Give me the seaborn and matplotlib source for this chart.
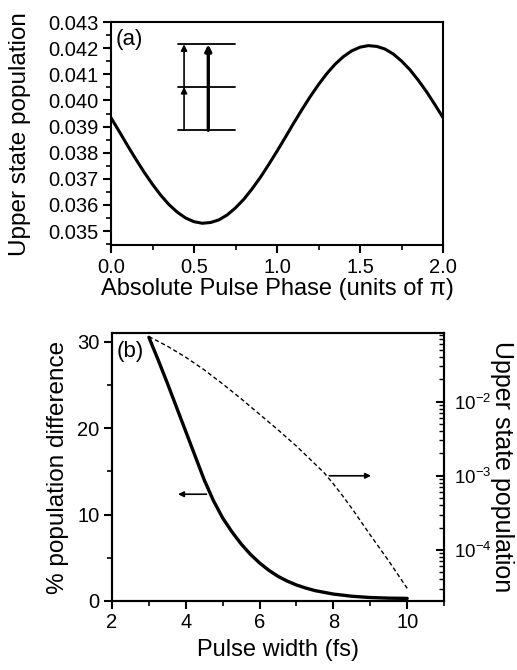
import matplotlib
matplotlib.use("Agg")
import numpy as np
import pandas as pd
import seaborn as sns
import matplotlib.pyplot as plt
from matplotlib.ticker import MultipleLocator, LogLocator, NullFormatter, FormatStrFormatter

# panel (a): upper state population vs absolute pulse phase
phase = [0.00, 0.05, 0.10, 0.15, 0.20, 0.25, 0.30, 0.35, 0.40, 0.45,
         0.50, 0.55, 0.60, 0.65, 0.70, 0.75, 0.80, 0.85, 0.90, 0.95,
         1.00, 1.05, 1.10, 1.15, 1.20, 1.25, 1.30, 1.35, 1.40, 1.45,
         1.50, 1.55, 1.60, 1.65, 1.70, 1.75, 1.80, 1.85, 1.90, 1.95, 2.00]
upper_pop = [0.03934, 0.03881, 0.03827, 0.03775, 0.03725, 0.03679, 0.03637,
             0.03601, 0.03572, 0.03550, 0.03536, 0.03530, 0.03533, 0.03543,
             0.03562, 0.03589, 0.03622, 0.03662, 0.03706, 0.03755, 0.03806,
             0.03859, 0.03913, 0.03965, 0.04015, 0.04061, 0.04103, 0.04139,
             0.04168, 0.04190, 0.04204, 0.04210, 0.04207, 0.04197, 0.04178,
             0.04151, 0.04118, 0.04078, 0.04034, 0.03985, 0.03934]

# panel (b): % population difference (left axis)
width_fs = [3.0, 3.25, 3.5, 3.75, 4.0, 4.25, 4.5, 4.75, 5.0, 5.25, 5.5, 5.75,
            6.0, 6.25, 6.5, 6.75, 7.0, 7.25, 7.5, 8.0, 8.5, 9.0, 9.5, 10.0]
pop_diff = [30.5, 27.9, 25.2, 22.4, 19.6, 16.8, 14.0, 11.6, 9.6, 8.0, 6.6, 5.4,
            4.4, 3.55, 2.85, 2.3, 1.85, 1.5, 1.2, 0.8, 0.55, 0.4, 0.33, 0.3]

# panel (b): upper state population (right axis, log10 values)
width_log = [3.0, 3.5, 4.0, 4.5, 5.0, 5.5, 6.0, 6.5, 7.0, 7.5, 7.75, 8.0, 8.25,
             8.5, 9.0, 9.5, 10.0]
log_upper = [-1.12, -1.25, -1.40, -1.57, -1.76, -1.96, -2.17, -2.38, -2.60,
             -2.84, -2.96, -3.11, -3.27, -3.44, -3.80, -4.15, -4.52]

sns.set_style("ticks")
plt.rcParams['font.family'] = ['Liberation Sans', 'DejaVu Sans']
plt.rcParams['mathtext.fontset'] = 'custom'
plt.rcParams['mathtext.rm'] = 'Liberation Sans'
plt.rcParams['mathtext.it'] = 'Liberation Sans'
plt.rcParams['axes.linewidth'] = 1.5
for key in ('text.color', 'axes.labelcolor', 'xtick.color', 'ytick.color', 'axes.edgecolor'):
    plt.rcParams[key] = 'black'

df_a = pd.DataFrame({'phase': phase, 'pop': upper_pop})
df_b = pd.DataFrame({'w': width_fs, 'diff': pop_diff})
df_c = pd.DataFrame({'w': width_log, 'pop': [10 ** v for v in log_upper]})

fig = plt.figure(figsize=(5.17, 6.70), dpi=100)
tick_fs = 14.5
label_fs = 17

# ---- (a) ----
ax = fig.add_axes([0.2147, 0.634, 0.857 - 0.2147, 0.967 - 0.634])
sns.lineplot(data=df_a, x='phase', y='pop', ax=ax, color='black', lw=2.2)
ax.set_xlim(0, 2)
ax.set_ylim(0.03446, 0.043)
ax.xaxis.set_major_locator(MultipleLocator(0.5))
ax.xaxis.set_minor_locator(MultipleLocator(0.25))
ax.yaxis.set_major_locator(MultipleLocator(0.001))
ax.yaxis.set_minor_locator(MultipleLocator(0.0005))
ax.xaxis.set_major_formatter(FormatStrFormatter('%.1f'))
ax.yaxis.set_major_formatter(FormatStrFormatter('%.3f'))
ax.tick_params(which='major', direction='out', length=6, width=1.5, labelsize=tick_fs, pad=3)
ax.tick_params(which='minor', direction='out', length=3.5, width=1.2)
ax.set_xlabel('Absolute Pulse Phase (units of π)', fontsize=label_fs, labelpad=1)
ax.set_ylabel('Upper state population', fontsize=17.5, labelpad=12)
ax.text(0.015, 0.97, '(a)', transform=ax.transAxes, fontsize=16, va='top', ha='left')

# energy level inset
levels = [0.04215, 0.04052, 0.03886]
for lv in levels:
    ax.plot([0.404, 0.747], [lv, lv], color='black', lw=1.3)
arr_thin = dict(arrowstyle='-|>', color='black', lw=1.2, mutation_scale=9, shrinkA=0, shrinkB=0)
arr_thick = dict(arrowstyle='-|>', color='black', lw=2.4, mutation_scale=9, shrinkA=0, shrinkB=0)
ax.annotate('', xy=(0.44, levels[1]), xytext=(0.44, levels[2]), arrowprops=arr_thin)
ax.annotate('', xy=(0.44, levels[0]), xytext=(0.44, levels[1]), arrowprops=arr_thin)
ax.annotate('', xy=(0.586, levels[0]), xytext=(0.586, levels[2]), arrowprops=arr_thick)

# ---- (b) ----
axb = fig.add_axes([0.2166, 0.103, 0.859 - 0.2166, 0.503 - 0.103])
sns.lineplot(data=df_b, x='w', y='diff', ax=axb, color='black', lw=2.4)
axb.set_xlim(2, 11)
axb.set_ylim(0, 31)
axb.xaxis.set_major_locator(MultipleLocator(2))
axb.xaxis.set_minor_locator(MultipleLocator(1))
axb.yaxis.set_major_locator(MultipleLocator(10))
axb.yaxis.set_minor_locator(MultipleLocator(5))
axb.tick_params(which='major', direction='out', length=6, width=1.5, labelsize=tick_fs, pad=3)
axb.tick_params(which='minor', direction='out', length=3.5, width=1.2)
axb.set_xlabel('Pulse width (fs)', fontsize=label_fs, labelpad=5)
axb.set_ylabel('% population difference', fontsize=17.5, labelpad=6)
axb.text(0.015, 0.97, '(b)', transform=axb.transAxes, fontsize=16, va='top', ha='left')
axb.annotate('', xy=(3.79, 12.35), xytext=(4.56, 12.35),
             arrowprops=dict(arrowstyle='-|>', color='black', lw=1.2, mutation_scale=8,
                             shrinkA=0, shrinkB=0))

ax2 = axb.twinx()
sns.lineplot(data=df_c, x='w', y='pop', ax=ax2, color='black', lw=1.0, linestyle=(0, (3, 2)))
ax2.set_yscale('log')
ax2.set_ylim(2.04e-5, 0.0847)
ax2.set_xlim(2, 11)
ax2.yaxis.set_major_locator(LogLocator(base=10, numticks=10))
ax2.yaxis.set_minor_locator(LogLocator(base=10, subs=np.arange(2, 10), numticks=10))
ax2.yaxis.set_minor_formatter(NullFormatter())
ax2.set_yticks([1e-4, 1e-3, 1e-2])
ax2.set_yticklabels([r'$10^{-4}$', r'$10^{-3}$', r'$10^{-2}$'])
ax2.tick_params(which='major', direction='in', length=6, width=1.5, labelsize=13.5, pad=7)
ax2.tick_params(which='minor', direction='in', length=3.5, width=1.0)
ax2.set_ylabel('Upper state population', fontsize=18, rotation=-90, labelpad=16)
ax2.annotate('', xy=(9.02, 1e-3), xytext=(7.89, 1e-3),
             arrowprops=dict(arrowstyle='-|>', color='black', lw=1.2, mutation_scale=8,
                             shrinkA=0, shrinkB=0))
ax2.set_xlabel('')

for a in (ax, axb, ax2):
    for s in a.spines.values():
        s.set_visible(True)
        s.set_linewidth(1.5)

fig.savefig('out.png', dpi=100)
